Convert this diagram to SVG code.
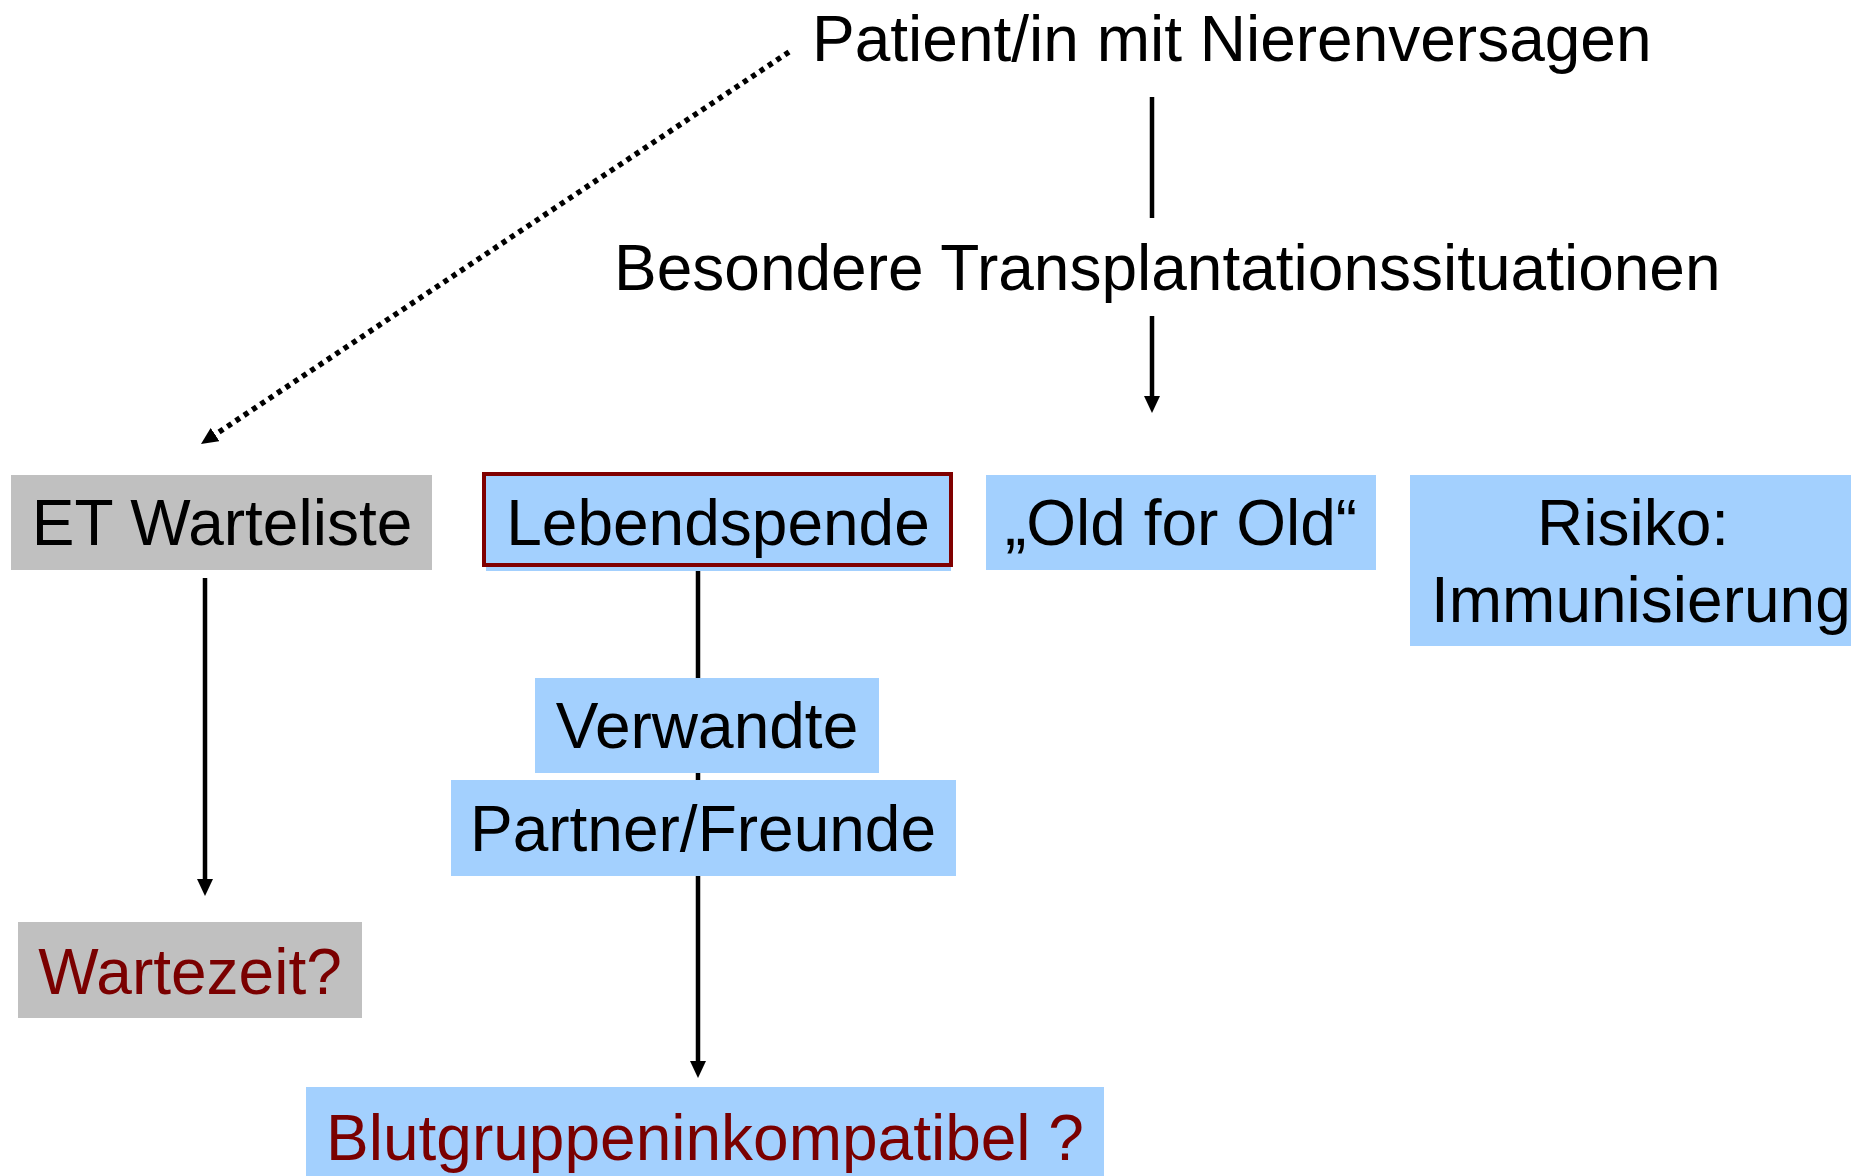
<svg xmlns="http://www.w3.org/2000/svg" width="1851" height="1176" viewBox="0 0 1851 1176">
  <style>
    .t { font-family: "Liberation Sans", Arial, Helvetica, sans-serif; font-size: 64px; fill: #000000; }
    .red { fill: #7a0000; }
    .mid { text-anchor: middle; }
    .grey { fill: #C0C0C0; }
    .blue { fill: #A3D0FE; }
    .conn { stroke: #000000; stroke-width: 4.5; fill: none; }
    .dot { stroke: #000000; stroke-width: 5.5; fill: none; stroke-dasharray: 5 5; }
  </style>
  <defs>
    <marker id="arrow" viewBox="0 0 17 16" refX="7" refY="8" markerWidth="17" markerHeight="16" markerUnits="userSpaceOnUse" orient="auto">
      <path d="M0,0 L17,8 L0,16 Z" fill="#000000"/>
    </marker>
  </defs>
  <rect width="1851" height="1176" fill="#FFFFFF"/>

  <g id="connectors">
    <line class="conn" x1="1152" y1="97" x2="1152" y2="218"/>
    <line class="conn" x1="1152" y1="316" x2="1152" y2="403" marker-end="url(#arrow)"/>
    <line class="dot" x1="789" y1="52" x2="209.3" y2="438.5" marker-end="url(#arrow)"/>
    <line class="conn" x1="205" y1="578" x2="205" y2="886" marker-end="url(#arrow)"/>
    <line class="conn" x1="698" y1="570" x2="698" y2="1068" marker-end="url(#arrow)"/>
  </g>

  <g id="patient">
    <text class="t" x="812" y="61">Patient/in mit Nierenversagen</text>
  </g>
  <g id="besondere">
    <text class="t" x="614" y="290">Besondere Transplantationssituationen</text>
  </g>

  <g id="et-warteliste">
    <rect class="grey" x="11" y="475" width="421" height="95"/>
    <text class="t mid" x="222" y="545">ET Warteliste</text>
  </g>

  <g id="lebendspende">
    <rect class="blue" x="486" y="476" width="465" height="95"/>
    <rect x="484" y="474" width="467" height="91" fill="none" stroke="#800000" stroke-width="4"/>
    <text class="t mid" x="718" y="545">Lebendspende</text>
  </g>

  <g id="old-for-old">
    <rect class="blue" x="986" y="475" width="390" height="95"/>
    <text class="t mid" x="1181" y="545">„Old for Old“</text>
  </g>

  <g id="risiko">
    <rect class="blue" x="1410" y="475" width="441" height="171"/>
    <text class="t" x="1537" y="545">Risiko:</text>
    <text class="t" x="1431" y="622">Immunisierung</text>
  </g>

  <g id="verwandte">
    <rect class="blue" x="535" y="678" width="344" height="95"/>
    <text class="t mid" x="707" y="748">Verwandte</text>
  </g>

  <g id="partner">
    <rect class="blue" x="451" y="780" width="505" height="96"/>
    <text class="t mid" x="703" y="851">Partner/Freunde</text>
  </g>

  <g id="wartezeit">
    <rect class="grey" x="18" y="922" width="344" height="96"/>
    <text class="t red mid" x="190" y="994">Wartezeit?</text>
  </g>

  <g id="blutgruppe">
    <rect class="blue" x="306" y="1087" width="798" height="95"/>
    <text class="t red mid" x="705" y="1160">Blutgruppeninkompatibel ?</text>
  </g>
</svg>
